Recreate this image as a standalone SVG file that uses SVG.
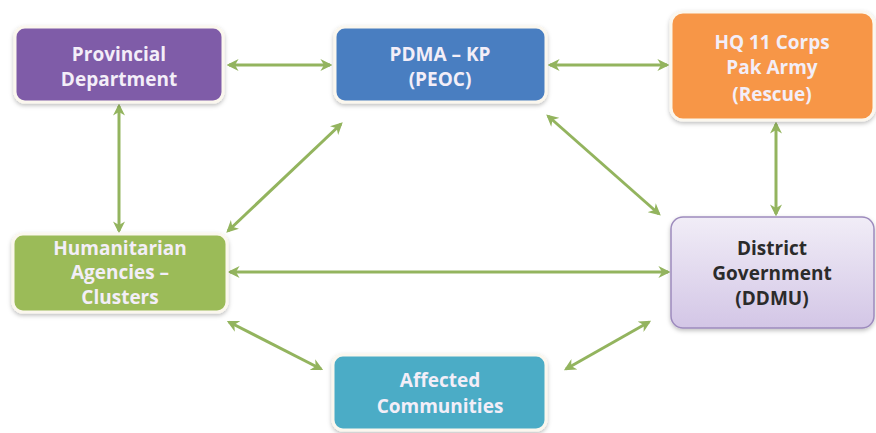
<svg xmlns="http://www.w3.org/2000/svg" width="876" height="433" viewBox="0 0 876 433">
<style>
.box{stroke:#fbf7ee;stroke-width:3;filter:url(#sh)}
.t{font-family:"Open Sans","Liberation Sans",sans-serif;font-weight:bold;font-size:19px;text-anchor:middle;fill:#f3eef8}
.dk{fill:#2b2b2b}
.c{stroke:#93b45e;stroke-width:3;fill:none;marker-start:url(#a);marker-end:url(#a)}
</style>
<defs>
<filter id="sh" x="-10%" y="-10%" width="120%" height="130%">
<feDropShadow dx="0" dy="2" stdDeviation="2" flood-color="#000" flood-opacity="0.25"/>
</filter>
<marker id="a" viewBox="0 0 10 10" refX="8" refY="5" markerWidth="4" markerHeight="4" orient="auto-start-reverse" markerUnits="strokeWidth">
<path d="M0,0 L10,5 L0,10 L3,5 z" fill="#93b45e"/>
</marker>
<linearGradient id="lav" x1="0" y1="0" x2="0" y2="1">
<stop offset="0" stop-color="#f1edf7"/>
<stop offset="1" stop-color="#d3c6e6"/>
</linearGradient>
</defs>
<g id="connectors">
<line class="c" x1="229" y1="65" x2="330" y2="65"/>
<line class="c" x1="550" y1="65" x2="667" y2="65"/>
<line class="c" x1="119" y1="106" x2="119" y2="231"/>
<line class="c" x1="228" y1="231" x2="341" y2="124"/>
<line class="c" x1="548" y1="116" x2="659" y2="214"/>
<line class="c" x1="776" y1="124" x2="776" y2="214"/>
<line class="c" x1="230" y1="272" x2="668" y2="272"/>
<line class="c" x1="229" y1="322" x2="321" y2="369"/>
<line class="c" x1="566" y1="369" x2="649" y2="322"/>
</g>
<g id="provincial">
<rect class="box" x="15" y="27" width="208" height="75" rx="10" fill="#7f5ca8"/>
<text class="t" x="119" y="61">Provincial</text>
<text class="t" x="119" y="86">Department</text>
</g>
<g id="pdma">
<rect class="box" x="335" y="27" width="211" height="75" rx="10" fill="#4a7ec1"/>
<text class="t" x="440" y="61">PDMA – KP</text>
<text class="t" x="440" y="86">(PEOC)</text>
</g>
<g id="hq">
<rect class="box" x="671" y="12" width="203" height="108" rx="12" fill="#f79646"/>
<text class="t" x="772" y="49">HQ 11 Corps</text>
<text class="t" x="772" y="74">Pak Army</text>
<text class="t" x="772" y="101">(Rescue)</text>
</g>
<g id="humanitarian">
<rect class="box" x="13" y="234" width="214" height="78" rx="10" fill="#9bbb59"/>
<text class="t" x="120" y="255">Humanitarian</text>
<text class="t" x="120" y="279">Agencies –</text>
<text class="t" x="120" y="304">Clusters</text>
</g>
<g id="district">
<rect x="671" y="217" width="203" height="111" rx="12" fill="url(#lav)" stroke="#9d8bbd" stroke-width="1.5" filter="url(#sh)"/>
<text class="t dk" x="772" y="255">District</text>
<text class="t dk" x="772" y="280">Government</text>
<text class="t dk" x="772" y="305">(DDMU)</text>
</g>
<g id="affected">
<rect class="box" x="333" y="355" width="213" height="75" rx="10" fill="#4bacc6"/>
<text class="t" x="440" y="387">Affected</text>
<text class="t" x="440" y="413">Communities</text>
</g>
</svg>
